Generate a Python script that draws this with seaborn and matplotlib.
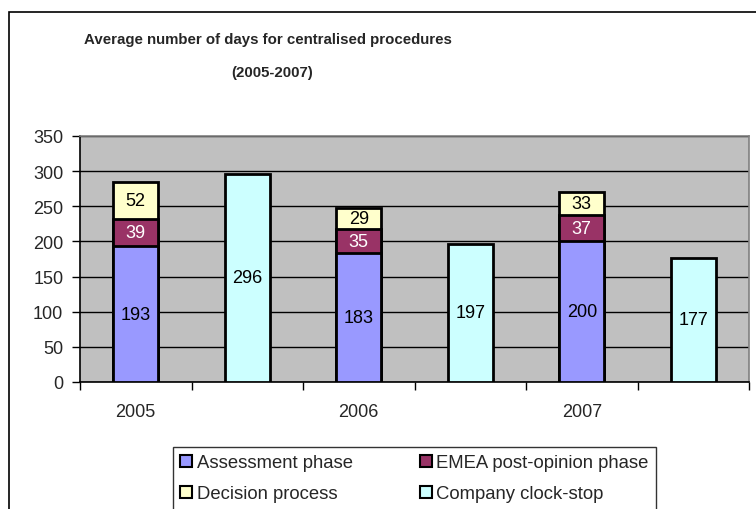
import matplotlib
matplotlib.use("Agg")
import matplotlib.pyplot as plt
import matplotlib.patches as mpatches
import seaborn as sns

# slots along the category axis: stacked bar per year, then a clock-stop bar
slots = ["2005", "cs2005", "2006", "cs2006", "2007", "cs2007"]
years = ["2005", "2006", "2007"]
clock_slots = ["cs2005", "cs2006", "cs2007"]

assessment = [193, 183, 200]
emea_post = [39, 35, 37]
decision = [52, 29, 33]
clock_stop = [296, 197, 177]

series_names = ["Assessment phase", "EMEA post-opinion phase",
                "Decision process", "Company clock-stop"]
colors = ["#9999FF", "#993366", "#FFFFCC", "#CCFFFF"]

sns.set_theme(style="white")
plt.rcParams["font.family"] = ["Liberation Sans", "DejaVu Sans"]

fig = plt.figure(figsize=(7.56, 5.1), dpi=100)
W, H = 756, 510
ax = fig.add_axes([80 / W, 1 - 383 / H, (749 - 80) / W, (383 - 137) / H])
ax.set_facecolor("#C0C0C0")

# chart frame
fig.patches.append(mpatches.Rectangle((9 / W, -0.1), 1.2, 1 - 13 / H + 0.1,
                                      transform=fig.transFigure, fill=False,
                                      edgecolor="black", linewidth=1.2))

lvl1 = assessment
lvl2 = [a + b for a, b in zip(assessment, emea_post)]
lvl3 = [a + b + c for a, b, c in zip(assessment, emea_post, decision)]

bar_kw = dict(order=slots, width=0.4, edgecolor="black", linewidth=2,
              ax=ax, saturation=1, zorder=3)
sns.barplot(x=years, y=lvl3, color=colors[2], **bar_kw)
sns.barplot(x=years, y=lvl2, color=colors[1], **bar_kw)
sns.barplot(x=years, y=lvl1, color=colors[0], **bar_kw)
sns.barplot(x=clock_slots, y=clock_stop, color=colors[3], **bar_kw)

# value labels
fs = 13
for i, y in enumerate(years):
    x = slots.index(y)
    ax.text(x, assessment[i] / 2, str(assessment[i]), ha="center", va="center",
            fontsize=fs, color="black", zorder=5)
    ax.text(x, lvl1[i] + emea_post[i] / 2, str(emea_post[i]), ha="center",
            va="center", fontsize=fs, color="white", zorder=5)
    ax.text(x, lvl2[i] + decision[i] / 2, str(decision[i]), ha="center",
            va="center", fontsize=fs, color="black", zorder=5)
for i, s in enumerate(clock_slots):
    x = slots.index(s)
    ax.text(x, clock_stop[i] / 2, str(clock_stop[i]), ha="center",
            va="center", fontsize=fs, color="black", zorder=5)

ax.set_xlim(-0.5, 5.5)
ax.set_ylim(0, 350)
ax.set_yticks(range(0, 351, 50))
ax.yaxis.grid(True, color="black", linewidth=1, zorder=1)
ax.set_axisbelow(True)
ax.set_xticks([0, 2, 4])
ax.set_xticklabels(years)
ax.set_xticks([-0.5, 0.5, 1.5, 2.5, 3.5, 4.5, 5.5], minor=True)
ax.tick_params(axis="x", which="major", length=0, pad=15, labelsize=fs)
ax.tick_params(axis="x", which="minor", length=6, width=1, color="black",
               direction="out", bottom=True)
ax.tick_params(axis="y", length=6, width=1, color="black", direction="out",
               left=True, pad=6, labelsize=fs)
ax.set_xlabel("")
ax.set_ylabel("")
for side in ["left", "bottom"]:
    ax.spines[side].set_color("black")
    ax.spines[side].set_linewidth(1.2)
for side in ["top", "right"]:
    ax.spines[side].set_color("#808080")
    ax.spines[side].set_linewidth(1.2)

fig.text(268 / W, 1 - 40 / H, "Average number of days for centralised procedures",
         ha="center", va="center", fontsize=10.8, fontweight="bold")
fig.text(272 / W, 1 - 73 / H, "(2005-2007)", ha="center", va="center",
         fontsize=10.8, fontweight="bold")

handles = [mpatches.Patch(facecolor=colors[0], edgecolor="black", linewidth=1.5),
           mpatches.Patch(facecolor=colors[2], edgecolor="black", linewidth=1.5),
           mpatches.Patch(facecolor=colors[1], edgecolor="black", linewidth=1.5),
           mpatches.Patch(facecolor=colors[3], edgecolor="black", linewidth=1.5)]
labels = [series_names[0], series_names[2], series_names[1], series_names[3]]
leg = fig.legend(handles, labels, ncol=2, loc="upper left",
                 bbox_to_anchor=(173 / W, 1 - 448 / H), fontsize=13.3,
                 frameon=True, fancybox=False, shadow=False,
                 handlelength=0.65, handleheight=0.65, handletextpad=0.25,
                 columnspacing=3.6, borderpad=0.4, labelspacing=0.75,
                 borderaxespad=0)
leg.get_frame().set_edgecolor("black")
leg.get_frame().set_linewidth(1)

fig.savefig("out.png", dpi=100)
